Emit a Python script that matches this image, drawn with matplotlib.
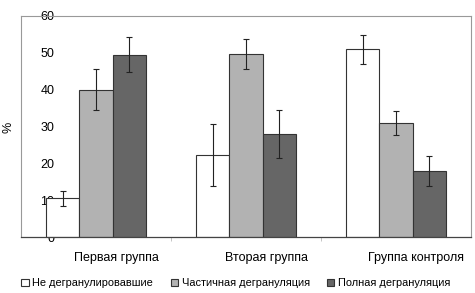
import numpy as np
import matplotlib
matplotlib.use("Agg")
import matplotlib.pyplot as plt
import matplotlib.transforms as mtransforms

plt.rcParams['font.family'] = ['Liberation Sans', 'DejaVu Sans']

# ----------------------- Data -----------------------
groups = ["Первая группа", "Вторая группа", "Группа контроля"]
series_names = ["Не дегранулировавшие", "Частичная дегрануляция", "Полная дегрануляция"]
not_degranulated = [10.5, 22.3, 51.0]
partial = [40.0, 49.7, 31.0]
full = [49.5, 28.0, 17.9]
err_not = [2.0, 8.5, 3.9]
err_partial = [5.5, 4.0, 3.2]
err_full = [4.8, 6.5, 4.0]
yticks = [0, 10, 20, 30, 40, 50, 60]

colors = ["#ffffff", "#b2b2b2", "#666666"]

# ----------------------- Plot -----------------------
fig = plt.figure(figsize=(4.75, 2.93), dpi=100)
ax = fig.add_axes([0.0442, 0.191, 0.9474, 0.7544])

x = np.arange(len(groups))
w = 0.223
values = [not_degranulated, partial, full]
errs = [err_not, err_partial, err_full]
handles = []
for i, (vals, e) in enumerate(zip(values, errs)):
    b = ax.bar(x + (i - 1) * w, vals, w, color=colors[i], edgecolor="#333333",
               linewidth=0.8, label=series_names[i], zorder=2)
    ax.errorbar(x + (i - 1) * w, vals, yerr=e, fmt="none", ecolor="#222222",
                elinewidth=0.8, capsize=2.5, capthick=0.8, zorder=3)
    handles.append(b)

ax.set_xlim(-0.5, 2.5)
ax.set_ylim(0, 60)
ax.set_yticks(yticks)
ax.set_yticklabels([str(t) for t in yticks])
ax.tick_params(axis="y", length=0, pad=-24, labelsize=9)
for lbl in ax.get_yticklabels():
    lbl.set_horizontalalignment("right")

# category labels sit a bit right of the bar groups
ax.set_xticks(x)
ax.set_xticklabels(groups)
ax.tick_params(axis="x", which="major", length=0, pad=11, labelsize=9)
shift = mtransforms.ScaledTranslation(20 / 100, 0, fig.dpi_scale_trans)
for lbl in ax.get_xticklabels():
    lbl.set_transform(lbl.get_transform() + shift)
ax.set_xticks([0.5, 1.5], minor=True)
ax.tick_params(axis="x", which="minor", length=3, color="#bbbbbb", direction="out")

for s in ["top", "right", "left"]:
    ax.spines[s].set_color("#999999")
    ax.spines[s].set_linewidth(0.8)
ax.spines["bottom"].set_color("#444444")
ax.spines["bottom"].set_linewidth(0.9)

fig.text(0.017, 0.565, "%", rotation=90, ha="center", va="center", fontsize=9)

fig.legend(handles=handles, loc="center", bbox_to_anchor=(0.497, 0.034), ncol=3,
           frameon=False, fontsize=7.9, handlelength=0.65, handleheight=0.65,
           handletextpad=0.35, columnspacing=1.6)

fig.savefig("out.png", dpi=100)
